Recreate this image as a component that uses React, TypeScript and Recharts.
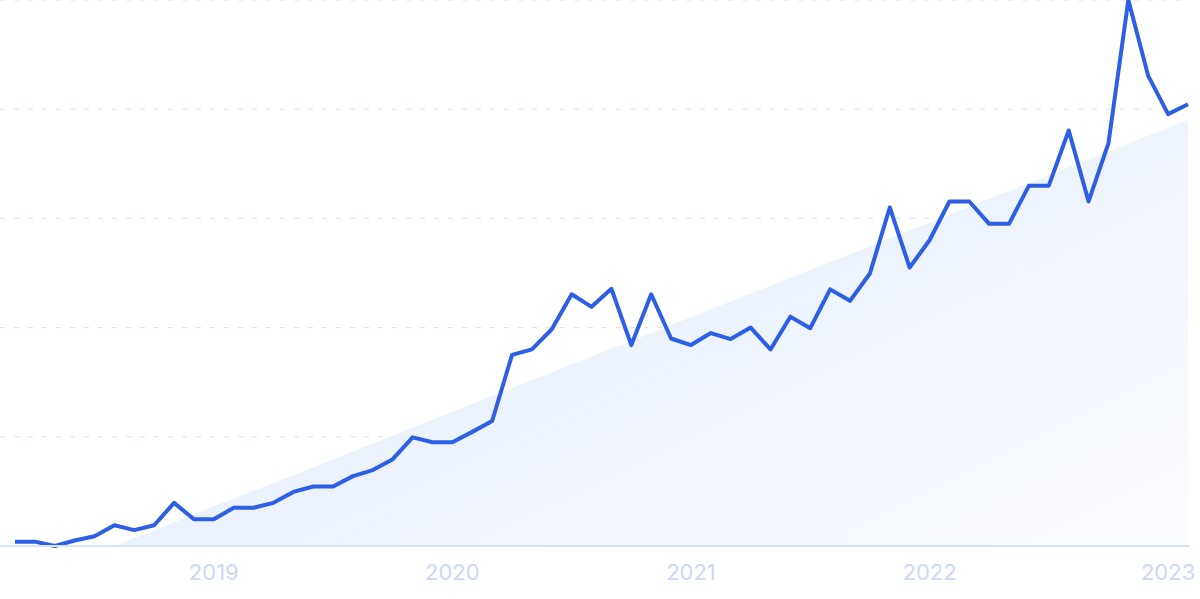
import {
  ComposedChart,
  Area,
  Line,
  XAxis,
  YAxis,
  CartesianGrid,
} from 'recharts'

// monthly index, Mar 2018 .. Feb 2023
const months: string[] = []
for (let y = 2018; y <= 2023; y++) {
  for (let m = 1; m <= 12; m++) {
    if ((y === 2018 && m < 3) || (y === 2023 && m > 2)) continue
    months.push(`${y}-${String(m).padStart(2, '0')}`)
  }
}

const interest = [
  0.8, 0.8, 0, 1, 1.8, 3.8, 2.9, 3.8, 7.9, 4.9,
  4.9, 7, 7, 7.9, 9.9, 10.9, 10.9, 12.8, 13.9, 15.9,
  19.9, 19, 19, 20.9, 22.9, 35, 36, 39.7, 46.1, 43.8,
  47.1, 36.8, 46.1, 38, 36.8, 39, 37.9, 40, 36, 42,
  39.9, 47, 44.9, 49.9, 62, 51, 56, 63.1, 63.1, 59,
  59, 66, 66, 76.1, 63.1, 73.8, 100, 86.1, 79.1, 80.9,
]

// trend line: start and end only, the area joins them
const trend: Record<string, number> = { '2018-08': 0, '2023-02': 78 }

const yearTicks = ['2019-01', '2020-01', '2021-01', '2022-01', '2023-01']
const yTicks = [0, 20, 40, 60, 80, 100]

const rows = months.map((m, i) => ({
  month: m,
  value: interest[i],
  trend: trend[m] ?? null,
}))

export default function App() {
  return (
    <div style={{ position: 'absolute', left: 0, top: 0, width: 1200, height: 599, background: '#fff' }}>
      <ComposedChart
        width={1200}
        height={599}
        data={rows}
        margin={{ top: 0, right: 10, bottom: 0, left: 0 }}
      >
        <defs>
          <linearGradient id="trendFill" x1="0" y1="0.2" x2="1" y2="1">
            <stop offset="0%" stopColor="#e0ebfb" />
            <stop offset="100%" stopColor="#fbfcff" />
          </linearGradient>
        </defs>
        <CartesianGrid vertical={false} stroke="#d5e0fa" strokeDasharray="5 9" />
        <XAxis
          dataKey="month"
          ticks={yearTicks}
          tickFormatter={(v: string) => v.slice(0, 4)}
          interval={0}
          padding={{ left: 15, right: 2 }}
          height={53}
          tickLine={false}
          tickMargin={12}
          axisLine={{ stroke: '#d8e5f8', strokeWidth: 2 }}
          tick={{ fontSize: 22, fill: '#cdd8f4', fontFamily: 'Inter' }}
        />
        <YAxis hide domain={[0, 100]} ticks={yTicks} />
        <Area
          type="linear"
          dataKey="trend"
          connectNulls
          stroke="none"
          fill="url(#trendFill)"
          fillOpacity={1}
          dot={false}
          activeDot={false}
          isAnimationActive={false}
        />
        <Line
          type="linear"
          dataKey="value"
          stroke="#2d5fe6"
          strokeWidth={4}
          strokeLinejoin="round"
          dot={false}
          activeDot={false}
          isAnimationActive={false}
        />
      </ComposedChart>
    </div>
  )
}
